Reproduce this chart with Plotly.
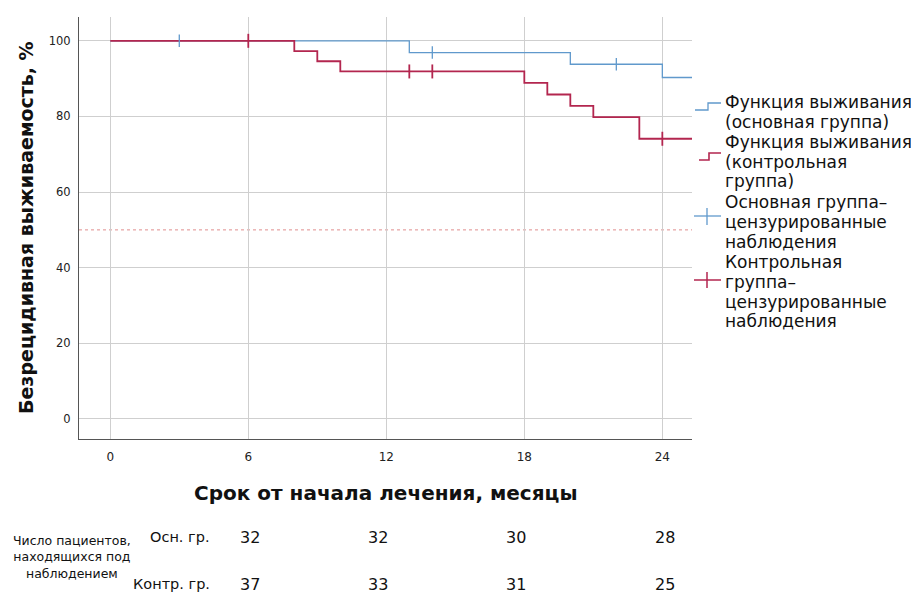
import plotly.graph_objects as go

# Kaplan-Meier step data (months, % relapse-free)
main_t = [0, 13, 20, 24, 26]
main_s = [100, 96.9, 93.8, 90.3, 90.3]
ctrl_t = [0, 8, 9, 10, 18, 19, 20, 21, 23, 26]
ctrl_s = [100, 97.3, 94.6, 91.9, 88.9, 85.8, 82.8, 79.8, 74.1, 74.1]

# censored observations
main_cens_t = [3, 14, 22]
main_cens_s = [100, 96.9, 93.8]
ctrl_cens_t = [6, 13, 14, 24]
ctrl_cens_s = [100, 91.9, 91.9, 74.1]

x_ticks = [0, 6, 12, 18, 24]
y_ticks = [0, 20, 40, 60, 80, 100]

# numbers at risk
risk_main = [32, 32, 30, 28]
risk_ctrl = [37, 33, 31, 25]

BLUE = "#6099cc"
RED = "#b3264f"
FONT = "DejaVu Sans, Verdana, sans-serif"

W, H = 911, 595
PL, PR, PT, PB = 79, 692, 17, 439


def px(x):
    return (x - PL) / (PR - PL)


def py(y):
    return (PB - y) / (PB - PT)


fig = go.Figure()

fig.add_trace(go.Scatter(x=main_t, y=main_s, mode="lines", line_shape="hv",
                         line=dict(color=BLUE, width=1.3), showlegend=False,
                         hoverinfo="skip"))
fig.add_trace(go.Scatter(x=ctrl_t, y=ctrl_s, mode="lines", line_shape="hv",
                         line=dict(color=RED, width=1.8), showlegend=False,
                         hoverinfo="skip"))
fig.add_trace(go.Scatter(x=main_cens_t, y=main_cens_s, mode="markers",
                         marker=dict(symbol="line-ns", size=9,
                                     line=dict(color=BLUE, width=1.3)),
                         showlegend=False, hoverinfo="skip"))
fig.add_trace(go.Scatter(x=ctrl_cens_t, y=ctrl_cens_s, mode="markers",
                         marker=dict(symbol="line-ns", size=10,
                                     line=dict(color=RED, width=1.8)),
                         showlegend=False, hoverinfo="skip"))

shapes = [
    # median reference line
    dict(type="line", xref="paper", yref="y", x0=0, x1=1, y0=50, y1=50,
         line=dict(color="#e08e8e", width=1, dash="dot"), layer="below"),
]


def path(points):
    return "M " + " L ".join(f"{px(a):.5f},{py(b):.5f}" for a, b in points)


# legend glyphs
shapes += [
    dict(type="path", xref="paper", yref="paper",
         path=path([(695, 110), (708, 110), (708, 103), (721, 103)]),
         line=dict(color=BLUE, width=1.3)),
    dict(type="path", xref="paper", yref="paper",
         path=path([(699, 160), (709, 160), (709, 153), (721, 153)]),
         line=dict(color=RED, width=1.6)),
    dict(type="line", xref="paper", yref="paper", x0=px(694), x1=px(721),
         y0=py(216), y1=py(216), line=dict(color=BLUE, width=1.3)),
    dict(type="line", xref="paper", yref="paper", x0=px(707), x1=px(707),
         y0=py(208), y1=py(225), line=dict(color=BLUE, width=1.3)),
    dict(type="line", xref="paper", yref="paper", x0=px(694), x1=px(721),
         y0=py(280), y1=py(280), line=dict(color=RED, width=1.5)),
    dict(type="line", xref="paper", yref="paper", x0=px(707), x1=px(707),
         y0=py(272), y1=py(288), line=dict(color=RED, width=1.5)),
]

annotations = []

legend_lines = [
    "Функция выживания", "(основная группа)",
    "Функция выживания", "(контрольная", "группа)",
    "Основная группа–", "цензурированные", "наблюдения",
    "Контрольная", "группа–", "цензурированные", "наблюдения",
]
legend_y = [102, 122, 142, 162, 181, 202, 222, 242, 262, 282, 302, 321]
for txt, yy in zip(legend_lines, legend_y):
    annotations.append(dict(text=txt, xref="paper", yref="paper",
                            x=px(723), y=py(yy), xanchor="left",
                            yanchor="middle", showarrow=False,
                            font=dict(family=FONT, size=17, color="#111")))

# axis titles
annotations.append(dict(text="<b>Безрецидивная выживаемость, %</b>",
                        xref="paper", yref="paper", x=px(26), y=py(228),
                        xanchor="center", yanchor="middle", textangle=-90,
                        showarrow=False,
                        font=dict(family=FONT, size=19, color="#111")))
annotations.append(dict(text="<b>Срок от начала лечения, месяцы</b>",
                        xref="paper", yref="paper", x=px(386), y=py(493),
                        xanchor="center", yanchor="middle", showarrow=False,
                        font=dict(family=FONT, size=20, color="#111")))

# number-at-risk table
annotations.append(dict(text="Число пациентов,<br>находящихся под<br>наблюдением",
                        xref="paper", yref="paper", x=px(72), y=py(557),
                        xanchor="center", yanchor="middle", align="center",
                        showarrow=False,
                        font=dict(family=FONT, size=12.5, color="#111")))
row_y = [537, 584]
row_names = ["Осн. гр.", "Контр. гр."]
col_px = [250, 378, 516, 665]
for name, vals, yy in zip(row_names, [risk_main, risk_ctrl], row_y):
    annotations.append(dict(text=name, xref="paper", yref="paper",
                            x=px(212), y=py(yy), xanchor="right",
                            yanchor="middle", showarrow=False,
                            font=dict(family=FONT, size=14.5, color="#111")))
    for v, cx in zip(vals, col_px):
        annotations.append(dict(text=str(v), xref="paper", yref="paper",
                                x=px(cx), y=py(yy), xanchor="center",
                                yanchor="middle", showarrow=False,
                                font=dict(family=FONT, size=16, color="#111")))

fig.update_layout(
    width=W, height=H,
    margin=dict(l=PL, r=W - PR, t=PT, b=H - PB, pad=0),
    paper_bgcolor="white", plot_bgcolor="white",
    shapes=shapes, annotations=annotations,
    showlegend=False,
    xaxis=dict(range=[-1.36, 25.29], tickvals=x_ticks,
               ticktext=[str(t) for t in x_ticks],
               showgrid=True, gridcolor="#cfcfcf", gridwidth=1,
               zeroline=False, showline=True, linecolor="#555", linewidth=1,
               ticks="", ticklabelstandoff=7,
               tickfont=dict(family=FONT, size=12, color="#222")),
    yaxis=dict(range=[-5.3, 106.3], tickvals=y_ticks,
               showgrid=True, gridcolor="#cfcfcf", gridwidth=1,
               zeroline=False, showline=True, linecolor="#555", linewidth=1,
               ticks="", ticklabelstandoff=5,
               tickfont=dict(family=FONT, size=11.5, color="#222")),
)

fig.write_html("out.html")
